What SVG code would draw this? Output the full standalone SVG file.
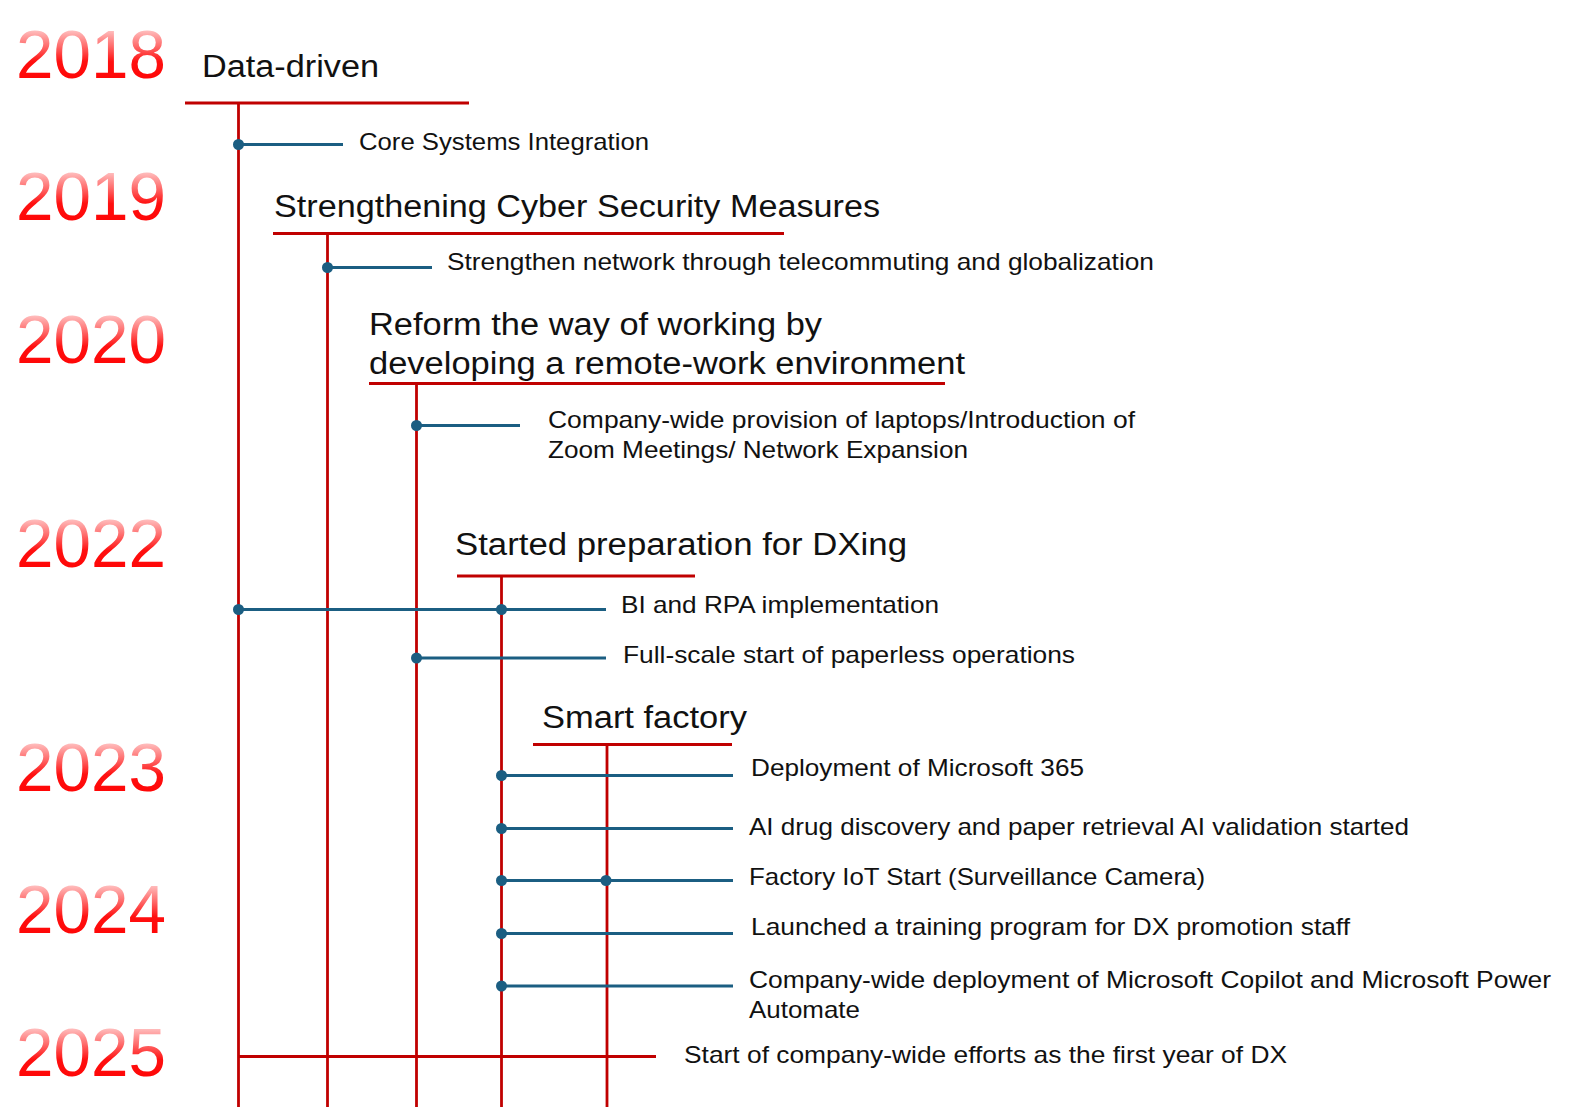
<svg xmlns="http://www.w3.org/2000/svg" width="1596" height="1110" viewBox="0 0 1596 1110">
<style>
.year{font-family:"Liberation Sans",Arial,sans-serif;font-size:68px;fill:url(#yg)}
.head{font-family:"Liberation Sans",Arial,sans-serif;font-size:31px;fill:#111}
.item{font-family:"Liberation Sans",Arial,sans-serif;font-size:24px;fill:#111}
.red{stroke:#C00000;stroke-width:2.8;fill:none}
.blue{stroke:#1B5E82;stroke-width:3;fill:none}
.dot{fill:#1B5E82}
</style>
<defs>
<linearGradient id="yg" x1="0" y1="0" x2="0" y2="1">
<stop offset="0.18" stop-color="#ffc2c2"/>
<stop offset="0.4" stop-color="#ff6a6a"/>
<stop offset="0.6" stop-color="#ff1010"/>
<stop offset="1" stop-color="#ff0000"/>
</linearGradient>
</defs>
<rect width="1596" height="1110" fill="#fff"/>
<g id="years">
<text class="year" x="16" y="78" textLength="150" lengthAdjust="spacingAndGlyphs">2018</text>
<text class="year" x="16" y="220" textLength="150" lengthAdjust="spacingAndGlyphs">2019</text>
<text class="year" x="16" y="363" textLength="150" lengthAdjust="spacingAndGlyphs">2020</text>
<text class="year" x="16" y="567" textLength="150" lengthAdjust="spacingAndGlyphs">2022</text>
<text class="year" x="16" y="791" textLength="150" lengthAdjust="spacingAndGlyphs">2023</text>
<text class="year" x="16" y="933" textLength="150" lengthAdjust="spacingAndGlyphs">2024</text>
<text class="year" x="16" y="1076" textLength="150" lengthAdjust="spacingAndGlyphs">2025</text>
</g>
<g id="node-data-driven">
<text class="head" x="202" y="77" textLength="177" lengthAdjust="spacingAndGlyphs">Data-driven</text>
<line class="red" x1="185" y1="103" x2="469" y2="103"/>
</g>
<g id="node-cyber">
<text class="head" x="274" y="217" textLength="606" lengthAdjust="spacingAndGlyphs">Strengthening Cyber Security Measures</text>
<line class="red" x1="273" y1="233.5" x2="784" y2="233.5"/>
</g>
<g id="node-remote">
<text class="head" x="369" y="335" textLength="453" lengthAdjust="spacingAndGlyphs">Reform the way of working by</text>
<text class="head" x="369" y="374" textLength="596" lengthAdjust="spacingAndGlyphs">developing a remote-work environment</text>
<line class="red" x1="369" y1="383.5" x2="945" y2="383.5"/>
</g>
<g id="node-dxing">
<text class="head" x="455" y="555" textLength="452" lengthAdjust="spacingAndGlyphs">Started preparation for DXing</text>
<line class="red" x1="457" y1="576" x2="695" y2="576"/>
</g>
<g id="node-smart">
<text class="head" x="542" y="728" textLength="205" lengthAdjust="spacingAndGlyphs">Smart factory</text>
<line class="red" x1="533" y1="744.5" x2="732" y2="744.5"/>
</g>
<g id="items">
<text class="item" x="359" y="150" textLength="290" lengthAdjust="spacingAndGlyphs">Core Systems Integration</text>
<text class="item" x="447" y="270" textLength="707" lengthAdjust="spacingAndGlyphs">Strengthen network through telecommuting and globalization</text>
<text class="item" x="548" y="428" textLength="587" lengthAdjust="spacingAndGlyphs">Company-wide provision of laptops/Introduction of</text>
<text class="item" x="548" y="458" textLength="420" lengthAdjust="spacingAndGlyphs">Zoom Meetings/ Network Expansion</text>
<text class="item" x="621" y="613" textLength="318" lengthAdjust="spacingAndGlyphs">BI and RPA implementation</text>
<text class="item" x="623" y="663" textLength="452" lengthAdjust="spacingAndGlyphs">Full-scale start of paperless operations</text>
<text class="item" x="751" y="776" textLength="333" lengthAdjust="spacingAndGlyphs">Deployment of Microsoft 365</text>
<text class="item" x="749" y="835" textLength="660" lengthAdjust="spacingAndGlyphs">AI drug discovery and paper retrieval AI validation started</text>
<text class="item" x="749" y="885" textLength="456" lengthAdjust="spacingAndGlyphs">Factory IoT Start (Surveillance Camera)</text>
<text class="item" x="751" y="935" textLength="599" lengthAdjust="spacingAndGlyphs">Launched a training program for DX promotion staff</text>
<text class="item" x="749" y="988" textLength="802" lengthAdjust="spacingAndGlyphs">Company-wide deployment  of Microsoft Copilot and Microsoft Power</text>
<text class="item" x="749" y="1018" textLength="111" lengthAdjust="spacingAndGlyphs">Automate</text>
<text class="item" x="684" y="1063" textLength="603" lengthAdjust="spacingAndGlyphs">Start of company-wide efforts as the first year of DX</text>
</g>
<g id="connectors">
<line class="red" x1="238.5" y1="103" x2="238.5" y2="1107"/>
<line class="red" x1="327.5" y1="233.5" x2="327.5" y2="1107"/>
<line class="red" x1="416.5" y1="383.5" x2="416.5" y2="1107"/>
<line class="red" x1="501.5" y1="576" x2="501.5" y2="1107"/>
<line class="red" x1="607" y1="744.5" x2="607" y2="1107"/>
<line class="red" x1="238.5" y1="1056.5" x2="656" y2="1056.5"/>
<line class="blue" x1="238.5" y1="144.5" x2="343" y2="144.5"/>
<line class="blue" x1="327.5" y1="267.5" x2="432" y2="267.5"/>
<line class="blue" x1="416.5" y1="425.5" x2="520" y2="425.5"/>
<line class="blue" x1="238.5" y1="609.5" x2="606" y2="609.5"/>
<line class="blue" x1="416.5" y1="658" x2="606" y2="658"/>
<line class="blue" x1="501.5" y1="775.5" x2="733" y2="775.5"/>
<line class="blue" x1="501.5" y1="828.5" x2="733" y2="828.5"/>
<line class="blue" x1="501.5" y1="880.5" x2="733" y2="880.5"/>
<line class="blue" x1="501.5" y1="933.5" x2="733" y2="933.5"/>
<line class="blue" x1="501.5" y1="986" x2="733" y2="986"/>
<circle class="dot" cx="238.5" cy="144.5" r="5.5"/>
<circle class="dot" cx="327.5" cy="267.5" r="5.5"/>
<circle class="dot" cx="416.5" cy="425.5" r="5.5"/>
<circle class="dot" cx="238.5" cy="609.5" r="5.5"/>
<circle class="dot" cx="501.5" cy="609.5" r="5.5"/>
<circle class="dot" cx="416.5" cy="658" r="5.5"/>
<circle class="dot" cx="501.5" cy="775.5" r="5.5"/>
<circle class="dot" cx="501.5" cy="828.5" r="5.5"/>
<circle class="dot" cx="501.5" cy="880.5" r="5.5"/>
<circle class="dot" cx="606" cy="880.5" r="5.5"/>
<circle class="dot" cx="501.5" cy="933.5" r="5.5"/>
<circle class="dot" cx="501.5" cy="986" r="5.5"/>
</g>
</svg>
